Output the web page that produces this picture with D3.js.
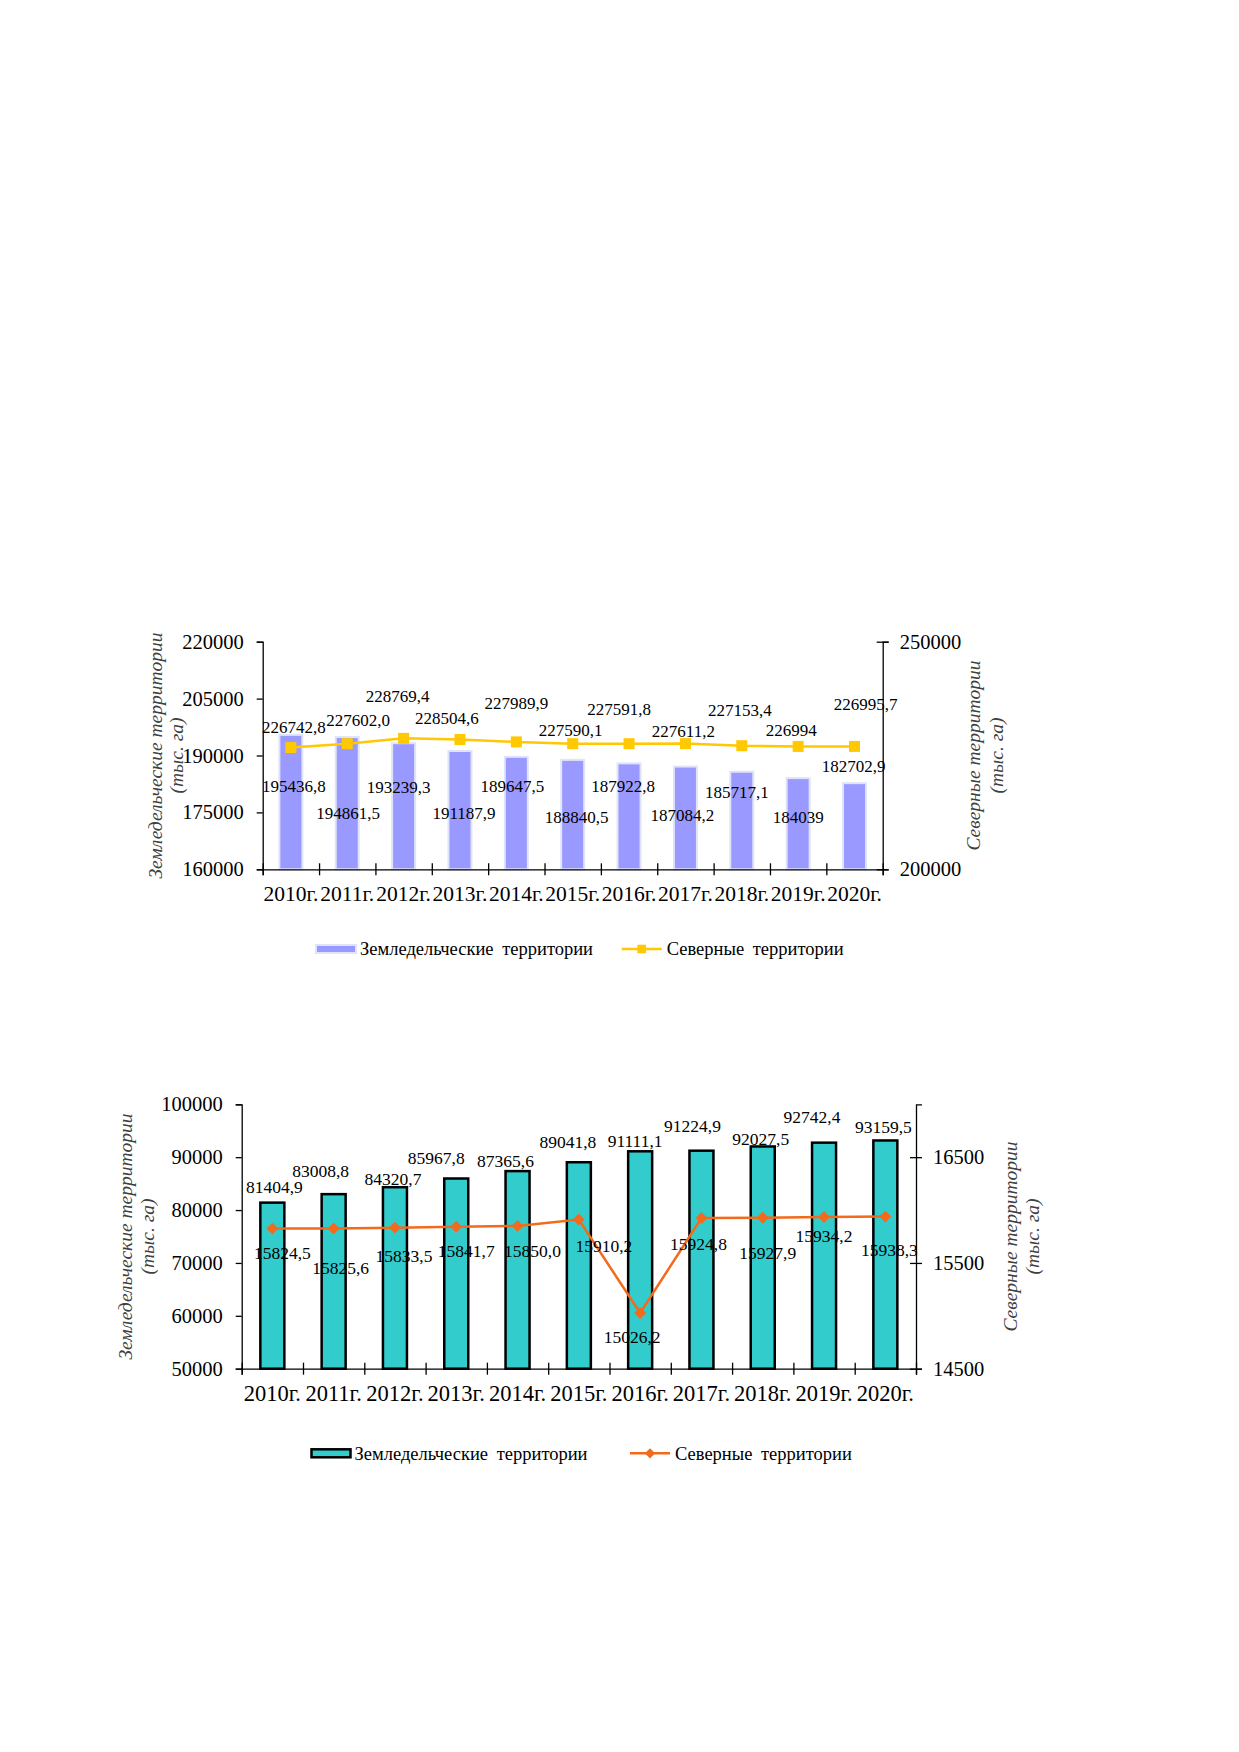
<!DOCTYPE html>
<html>
<head>
<meta charset="utf-8">
<script src="https://cdn.jsdelivr.net/npm/d3@7"></script>
<style>
  body { margin: 0; background: #fff; }
  svg { display: block; font-family: "Liberation Serif", "Times New Roman", serif; }
</style>
</head>
<body>
<div id="chart"></div>
<script>
// categories
const years = ['2010г.', '2011г.', '2012г.', '2013г.', '2014г.', '2015г.', '2016г.', '2017г.', '2018г.', '2019г.', '2020г.']

// chart 1 (top)
const agri1 = [195436.8, 194861.5, 193239.3, 191187.9, 189647.5, 188840.5, 187922.8, 187084.2, 185717.1, 184039, 182702.9]
const agri1Text = ['195436,8', '194861,5', '193239,3', '191187,9', '189647,5', '188840,5', '187922,8', '187084,2', '185717,1', '184039', '182702,9']
const north1 = [226742.8, 227602.0, 228769.4, 228504.6, 227989.9, 227590.1, 227591.8, 227611.2, 227153.4, 226994, 226995.7]
const north1Text = ['226742,8', '227602,0', '228769,4', '228504,6', '227989,9', '227590,1', '227591,8', '227611,2', '227153,4', '226994', '226995,7']
const left1Ticks = [160000, 175000, 190000, 205000, 220000]
const right1Ticks = [200000, 250000]

// chart 2 (bottom)
const agri2 = [81404.9, 83008.8, 84320.7, 85967.8, 87365.6, 89041.8, 91111.1, 91224.9, 92027.5, 92742.4, 93159.5]
const agri2Text = ['81404,9', '83008,8', '84320,7', '85967,8', '87365,6', '89041,8', '91111,1', '91224,9', '92027,5', '92742,4', '93159,5']
const north2 = [15824.5, 15825.6, 15833.5, 15841.7, 15850.0, 15910.2, 15026.2, 15924.8, 15927.9, 15934.2, 15938.3]
const north2Text = ['15824,5', '15825,6', '15833,5', '15841,7', '15850,0', '15910,2', '15026,2', '15924,8', '15927,9', '15934,2', '15938,3']
const left2Ticks = [50000, 60000, 70000, 80000, 90000, 100000]
const right2Ticks = [14500, 15500, 16500]

const seriesNames = ['Земледельческие территории', 'Северные территории']
const leftTitle = ['Земледельческие территории', '(тыс. га)']
const rightTitle = ['Северные территории', '(тыс. га)']

// label nudges (pixels, from the mark) – the source places them by hand
const nudgeBar1 = [[3,51],[1,76],[-5,44],[4,62],[-4,29],[4,57],[-6,23],[-3,48],[-5,20],[0,39],[-1,-17]]
const nudgeLine1 = [[3,-21],[11,-24],[-6,-42],[-13,-21],[0,-39],[-2,-14],[-10,-35],[-2,-13],[-2,-36],[-7,-16],[11,-42]]
const nudgeBar2 = [[2,-16],[-13,-23],[-2,-8],[-20,-21],[-12,-10],[-11,-20],[-5,-10],[-9,-25],[-2,-8],[-12,-26],[-2,-14]]
const nudgeLine2 = [[10,24],[7,39],[9,28],[10,24],[15,25],[25,26],[-8,24],[-3,26],[5,35],[0,19],[4,33]]

const svg = d3.select('#chart').append('svg')
  .attr('width', 1239)
  .attr('height', 1752)

const drawChart = (c) => {
  const g = svg.append('g')

  let x = d3.scaleBand().domain(years).range([c.x0, c.x1]).padding(0)
  let xEdge = d3.scaleLinear().domain([0, years.length]).range([c.x0, c.x1])
  let yL = d3.scaleLinear().domain(c.leftDomain).range([c.yBot, c.yTop])
  let yR = d3.scaleLinear().domain(c.rightDomain).range([c.yBot, c.yTop])

  // bars
  g.append('g').selectAll('rect')
    .data(c.bars)
    .enter()
    .append('rect')
    .attr('x', (d, i) => x(years[i]) + x.bandwidth() / 2 - c.barW / 2)
    .attr('y', d => yL(d))
    .attr('width', c.barW)
    .attr('height', d => c.yBot - yL(d))
    .attr('fill', c.barFill)
    .attr('stroke', c.barStroke)
    .attr('stroke-width', c.barStrokeW)

  // axes
  let axisStyle = sel => {
    sel.select('.domain').attr('stroke', '#000').attr('stroke-width', 1.3)
    sel.selectAll('.tick line').attr('stroke', '#000').attr('stroke-width', 1.3)
    sel.selectAll('.tick text').attr('font-family', 'Liberation Serif').attr('font-size', c.tickFont).attr('fill', '#000')
  }

  g.append('g')
    .attr('transform', `translate(${c.x0},0)`)
    .call(d3.axisLeft(yL).tickValues(c.leftTicks).tickSizeOuter(0).tickSize(6).tickPadding(13).tickFormat(d => d))
    .call(axisStyle)

  g.append('g')
    .attr('transform', `translate(${c.x1},0)`)
    .call(d3.axisRight(yR).tickValues(c.rightTicks).tickSizeOuter(0).tickSize(6).tickPadding(11).tickFormat(d => d))
    .call(axisStyle)
    .selectAll('.tick line').attr('x1', -6)

  let xa = g.append('g')
    .attr('transform', `translate(0,${c.yBot})`)
    .call(d3.axisBottom(xEdge).tickValues(d3.range(years.length + 1)).tickSizeOuter(0).tickSize(6).tickFormat(''))
    .call(axisStyle)
  xa.selectAll('.tick line').attr('y1', -6)

  g.append('g').selectAll('text')
    .data(years)
    .enter()
    .append('text')
    .attr('x', d => x(d) + x.bandwidth() / 2)
    .attr('y', c.yBot + c.catGap)
    .attr('dy', '0.35em')
    .attr('text-anchor', 'middle')
    .attr('font-size', c.catFont)
    .text(d => d)

  // line
  const line = d3.line()
    .x((d, i) => x(years[i]) + x.bandwidth() / 2)
    .y(d => yR(d))

  g.append('path')
    .datum(c.line)
    .attr('d', line)
    .attr('fill', 'none')
    .attr('stroke', c.lineColor)
    .attr('stroke-width', 2.5)

  g.append('g').selectAll('path')
    .data(c.line)
    .enter()
    .append('path')
    .attr('transform', (d, i) => `translate(${x(years[i]) + x.bandwidth() / 2},${yR(d)})` + (c.marker === 'diamond' ? ' rotate(45)' : ''))
    .attr('d', c.marker === 'diamond' ? 'M-4.2,-4.2H4.2V4.2H-4.2Z' : 'M-5.5,-5.5H5.5V5.5H-5.5Z')
    .attr('fill', c.lineColor)

  // data labels
  g.append('g').selectAll('text')
    .data(c.bars)
    .enter()
    .append('text')
    .attr('x', (d, i) => x(years[i]) + x.bandwidth() / 2 + c.barNudge[i][0])
    .attr('y', (d, i) => yL(d) + c.barNudge[i][1])
    .attr('dy', '0.35em')
    .attr('text-anchor', 'middle')
    .attr('font-size', c.labelFont)
    .text((d, i) => c.barText[i])

  g.append('g').selectAll('text')
    .data(c.line)
    .enter()
    .append('text')
    .attr('x', (d, i) => x(years[i]) + x.bandwidth() / 2 + c.lineNudge[i][0])
    .attr('y', (d, i) => yR(d) + c.lineNudge[i][1])
    .attr('dy', '0.35em')
    .attr('text-anchor', 'middle')
    .attr('font-size', c.labelFont)
    .text((d, i) => c.lineText[i])

  // axis titles
  let yMid = (c.yTop + c.yBot) / 2
  const title = (lines, xs) => {
    lines.forEach((t, k) => {
      g.append('text')
        .attr('transform', `translate(${xs[k]},${yMid}) rotate(-90)`)
        .attr('dy', '0.35em')
        .attr('text-anchor', 'middle')
        .attr('font-style', 'italic')
        .attr('font-size', c.titleFont)
        .attr('fill', '#404040')
        .text(t)
    })
  }
  title(leftTitle, c.leftTitleX)
  title(rightTitle, c.rightTitleX)

  // legend
  let lg = g.append('g').attr('transform', `translate(0,${c.legY})`)
  lg.append('rect')
    .attr('x', c.leg[0]).attr('y', -c.legH / 2)
    .attr('width', c.leg[1] - c.leg[0]).attr('height', c.legH)
    .attr('fill', c.barFill).attr('stroke', c.barStroke).attr('stroke-width', c.barStrokeW)
  lg.append('text')
    .attr('x', c.leg[1] + 4).attr('dy', '0.35em')
    .attr('font-size', c.legFont)
    .attr('word-spacing', 4)
    .text(seriesNames[0])
  lg.append('line')
    .attr('x1', c.leg[2]).attr('x2', c.leg[3])
    .attr('stroke', c.lineColor).attr('stroke-width', 2.5)
  lg.append('path')
    .attr('transform', `translate(${(c.leg[2] + c.leg[3]) / 2},0)` + (c.marker === 'diamond' ? ' rotate(45)' : ''))
    .attr('d', c.marker === 'diamond' ? 'M-3.6,-3.6H3.6V3.6H-3.6Z' : 'M-4.3,-4.3H4.3V4.3H-4.3Z')
    .attr('fill', c.lineColor)
  lg.append('text')
    .attr('x', c.leg[3] + 5).attr('dy', '0.35em')
    .attr('font-size', c.legFont)
    .attr('word-spacing', 4)
    .text(seriesNames[1])
}

drawChart({
  x0: 262.7, x1: 882.7, yTop: 641.7, yBot: 869.3,
  leftDomain: [160000, 220000], rightDomain: [200000, 250000],
  leftTicks: left1Ticks, rightTicks: right1Ticks,
  bars: agri1, barText: agri1Text, line: north1, lineText: north1Text,
  barNudge: nudgeBar1, lineNudge: nudgeLine1,
  barW: 23, barFill: '#9999ff', barStroke: '#dfe4f8', barStrokeW: 2,
  lineColor: '#ffc800', marker: 'square',
  tickFont: 20.5, catFont: 21.5, catGap: 24, labelFont: 17,
  titleFont: 19.5, leftTitleX: [155, 176.5], rightTitleX: [973, 996.5],
  legY: 949, legH: 8, leg: [316, 356, 621.7, 661.7], legFont: 18.5
})

drawChart({
  x0: 241.7, x1: 916, yTop: 1104.3, yBot: 1368.7,
  leftDomain: [50000, 100000], rightDomain: [14500, 17000],
  leftTicks: left2Ticks, rightTicks: right2Ticks,
  bars: agri2, barText: agri2Text, line: north2, lineText: north2Text,
  barNudge: nudgeBar2, lineNudge: nudgeLine2,
  barW: 24, barFill: '#33cccc', barStroke: '#000', barStrokeW: 2.5,
  lineColor: '#f26b1d', marker: 'diamond',
  tickFont: 20.5, catFont: 22.5, catGap: 24.6, labelFont: 17.5,
  titleFont: 19.5, leftTitleX: [125, 146.7], rightTitleX: [1010, 1031.7],
  legY: 1453.3, legH: 8, leg: [311.5, 350.5, 630, 670], legFont: 18.5
})
</script>
</body>
</html>
